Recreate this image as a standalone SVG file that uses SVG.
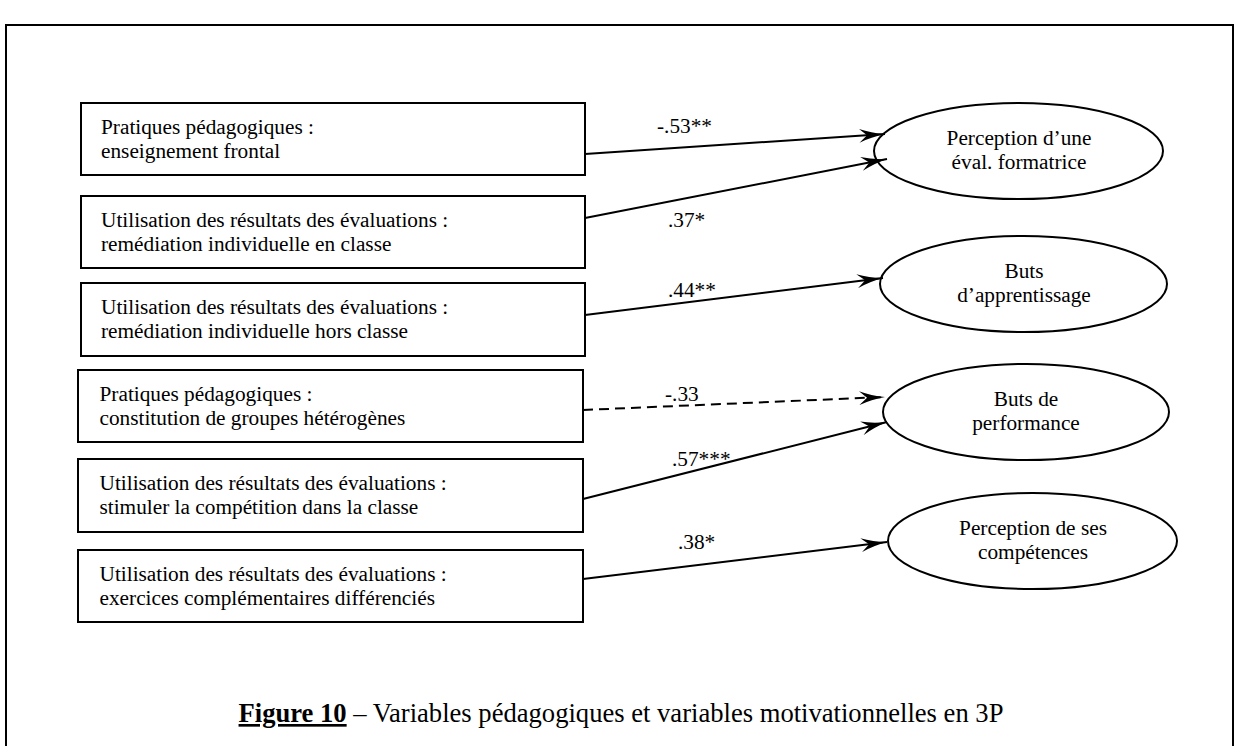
<svg xmlns="http://www.w3.org/2000/svg" width="1237" height="746" viewBox="0 0 1237 746">
  <style>
    text { font-family: "Liberation Serif", "Times New Roman", serif; fill: #000; }
    .t { font-size: 21.3px; }
    .box { fill: #fff; stroke: #000; stroke-width: 2; }
    .ell { fill: #fff; stroke: #000; stroke-width: 2; }
    .link { stroke: #000; stroke-width: 2; fill: none; marker-end: url(#arrow); }
    .dash { stroke-dasharray: 10 6; }
    .mid { text-anchor: middle; }
  </style>
  <defs>
    <marker id="arrow" viewBox="0 0 26 14" refX="26" refY="7" markerWidth="26" markerHeight="14" markerUnits="userSpaceOnUse" orient="auto">
      <path d="M0,0 Q12,5 26,7 Q12,9 0,14 L8,7 Z" fill="#000"/>
    </marker>
  </defs>

  <rect width="1237" height="746" fill="#fff"/>
  <!-- frame (open at the bottom) -->
  <path d="M6,746 V25 H1233 V746" fill="none" stroke="#000" stroke-width="2"/>

  <!-- predictor boxes -->
  <g id="b1">
    <rect class="box" x="81" y="103" width="504" height="72"/>
    <text class="t" x="101" y="134">Pratiques pédagogiques :</text>
    <text class="t" x="101" y="158">enseignement frontal</text>
  </g>
  <g id="b2">
    <rect class="box" x="81" y="196" width="504" height="72"/>
    <text class="t" x="101" y="227">Utilisation des résultats des évaluations :</text>
    <text class="t" x="101" y="251">remédiation individuelle en classe</text>
  </g>
  <g id="b3">
    <rect class="box" x="81" y="283" width="504" height="73"/>
    <text class="t" x="101" y="314">Utilisation des résultats des évaluations :</text>
    <text class="t" x="101" y="338">remédiation individuelle hors classe</text>
  </g>
  <g id="b4">
    <rect class="box" x="78" y="370" width="505" height="72"/>
    <text class="t" x="99.5" y="401">Pratiques pédagogiques :</text>
    <text class="t" x="99.5" y="425">constitution de groupes hétérogènes</text>
  </g>
  <g id="b5">
    <rect class="box" x="78" y="459" width="505" height="73"/>
    <text class="t" x="99.5" y="490">Utilisation des résultats des évaluations :</text>
    <text class="t" x="99.5" y="514">stimuler la compétition dans la classe</text>
  </g>
  <g id="b6">
    <rect class="box" x="78" y="550" width="505" height="72"/>
    <text class="t" x="99.5" y="581">Utilisation des résultats des évaluations :</text>
    <text class="t" x="99.5" y="605">exercices complémentaires différenciés</text>
  </g>

  <!-- outcome ellipses -->
  <g id="e1">
    <ellipse class="ell" cx="1018.5" cy="151" rx="144.5" ry="48"/>
    <text class="t mid" x="1019" y="145">Perception d’une</text>
    <text class="t mid" x="1019" y="169">éval. formatrice</text>
  </g>
  <g id="e2">
    <ellipse class="ell" cx="1023.5" cy="284" rx="143.5" ry="48"/>
    <text class="t mid" x="1024" y="278">Buts</text>
    <text class="t mid" x="1024" y="302">d’apprentissage</text>
  </g>
  <g id="e3">
    <ellipse class="ell" cx="1026" cy="412" rx="143" ry="48"/>
    <text class="t mid" x="1026" y="406">Buts de</text>
    <text class="t mid" x="1026" y="430">performance</text>
  </g>
  <g id="e4">
    <ellipse class="ell" cx="1032.5" cy="541" rx="144.5" ry="48"/>
    <text class="t mid" x="1033" y="535">Perception de ses</text>
    <text class="t mid" x="1033" y="559">compétences</text>
  </g>

  <!-- paths with coefficients -->
  <g id="links">
    <line class="link" x1="585" y1="154" x2="885" y2="134"/>
    <line class="link" x1="585" y1="218" x2="887" y2="159"/>
    <line class="link" x1="585" y1="315" x2="883" y2="278"/>
    <line class="link dash" x1="583" y1="410" x2="885" y2="397"/>
    <line class="link" x1="583" y1="499" x2="887" y2="422"/>
    <line class="link" x1="583" y1="579" x2="887" y2="542"/>
    <text class="t" x="657" y="133">-.53**</text>
    <text class="t" x="668" y="227">.37*</text>
    <text class="t" x="668" y="297">.44**</text>
    <text class="t" x="665" y="401">-.33</text>
    <text class="t" x="672" y="466">.57***</text>
    <text class="t" x="678" y="549">.38*</text>
  </g>

  <!-- caption -->
  <text x="621" y="722" font-size="26.6" text-anchor="middle"><tspan font-weight="bold" text-decoration="underline">Figure 10</tspan> – Variables pédagogiques et variables motivationnelles en 3P</text>
</svg>
